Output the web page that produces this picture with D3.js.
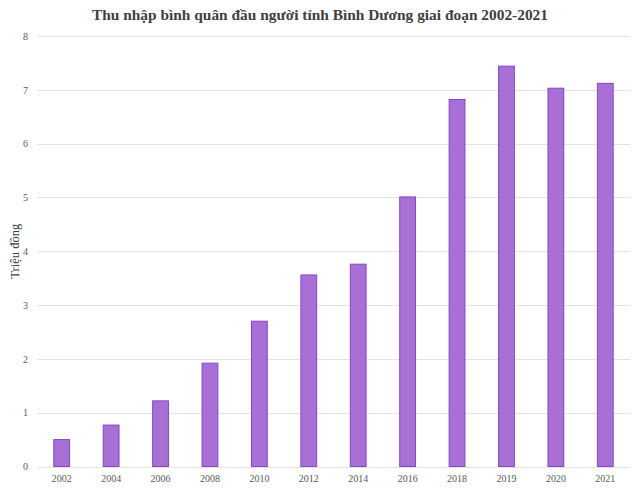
<!DOCTYPE html>
<html><head><meta charset="utf-8">
<script src="https://cdn.jsdelivr.net/npm/d3@7"></script>
<style>body{margin:0;background:#fff}</style>
</head><body><svg id="c" width="640" height="489"></svg>
<script>
const categories = ["2002","2004","2006","2008","2010","2012","2014","2016","2018","2019","2020","2021"];
const values = [0.5,0.77,1.22,1.92,2.7,3.56,3.76,5.01,6.82,7.44,7.03,7.12];
const yTicks = [0,1,2,3,4,5,6,7,8];
const title = "Thu nhập bình quân đầu người tỉnh Bình Dương giai đoạn 2002-2021";
const yLabel = "Triệu đồng";

const svg = d3.select("#c");
const m = {left:37, right:10, top:36, bottom:22.5};
const W = 640, H = 489;
const x = d3.scaleBand().domain(categories).range([m.left, W - m.right]).paddingInner(0.66).paddingOuter(0.33);
const y = d3.scaleLinear().domain([0,8]).range([H - m.bottom, m.top]);
const font = "'Liberation Serif','Times New Roman',serif";

svg.append("g").selectAll("line").data(yTicks).join("line")
  .attr("x1", m.left).attr("x2", W - m.right)
  .attr("y1", d => Math.round(y(d)) + 0.5).attr("y2", d => Math.round(y(d)) + 0.5)
  .attr("stroke", "#e3e3e3").attr("stroke-width", 1);

const yAxis = svg.append("g").attr("transform", `translate(${m.left},0)`)
  .call(d3.axisLeft(y).tickValues(yTicks).tickSize(0).tickPadding(9).tickFormat(d3.format("d")));
yAxis.select(".domain").remove();
yAxis.selectAll("text").attr("font-family", font).attr("font-size", 10).attr("fill", "#595959");

svg.append("g").selectAll("rect").data(values).join("rect")
  .attr("x", (d,i) => x(categories[i]) + 0.5)
  .attr("y", d => y(d))
  .attr("width", x.bandwidth() - 1)
  .attr("height", d => y(0) - y(d))
  .attr("fill", "#a870d6").attr("stroke", "#8447c0").attr("stroke-width", 1);

const xAxis = svg.append("g").attr("transform", `translate(0,${y(0)})`)
  .call(d3.axisBottom(x).tickSize(0).tickPadding(8));
xAxis.select(".domain").remove();
xAxis.selectAll("text").attr("font-family", font).attr("font-size", 10).attr("fill", "#595959");

svg.append("text").attr("x", 320).attr("y", 20).attr("text-anchor", "middle")
  .attr("font-family", font).attr("font-weight", "bold").attr("font-size", 15.4).attr("fill", "#404040")
  .text(title);

svg.append("text").attr("transform", `translate(19,${(y(0)+y(8))/2}) rotate(-90)`)
  .attr("text-anchor", "middle").attr("font-family", font).attr("font-size", 12.5).attr("fill", "#404040")
  .text(yLabel);
</script></body></html>
